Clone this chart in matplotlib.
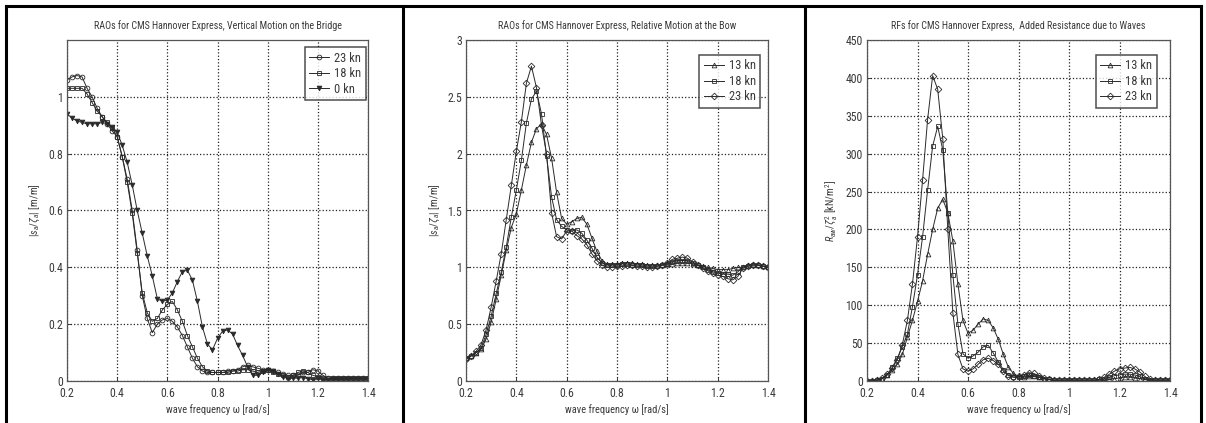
"""Seakeeping response curves of the CMS Hannover Express, three panels."""

import matplotlib
matplotlib.use("Agg")
import matplotlib.pyplot as plt
from matplotlib import font_manager
from matplotlib.lines import Line2D

# wave frequency grid [rad/s]
freq = [0.20, 0.22, 0.24, 0.26, 0.28, 0.30, 0.32, 0.34, 0.36, 0.38,
        0.40, 0.42, 0.44, 0.46, 0.48, 0.50, 0.52, 0.54, 0.56, 0.58,
        0.60, 0.62, 0.64, 0.66, 0.68, 0.70, 0.72, 0.74, 0.76, 0.78,
        0.80, 0.82, 0.84, 0.86, 0.88, 0.90, 0.92, 0.94, 0.96, 0.98,
        1.00, 1.02, 1.04, 1.06, 1.08, 1.10, 1.12, 1.14, 1.16, 1.18,
        1.20, 1.22, 1.24, 1.26, 1.28, 1.30, 1.32, 1.34, 1.36, 1.38,
        1.40]

# vertical motion on the bridge [m/m]
bridge_23kn = [1.06, 1.07, 1.075, 1.07, 1.03, 1.00, 0.96, 0.93, 0.905, 0.88,
               0.86, 0.79, 0.71, 0.60, 0.46, 0.30, 0.22, 0.17, 0.20, 0.215,
               0.22, 0.21, 0.19, 0.16, 0.12, 0.08, 0.05, 0.035, 0.03, 0.03,
               0.03, 0.03, 0.035, 0.035, 0.04, 0.05, 0.055, 0.05, 0.045, 0.04,
               0.04, 0.035, 0.03, 0.025, 0.02, 0.02, 0.02, 0.03, 0.03, 0.04,
               0.035, 0.02, 0.01, 0.01, 0.01, 0.01, 0.01, 0.01, 0.01, 0.01,
               0.01]
bridge_18kn = [1.03, 1.03, 1.03, 1.03, 1.01, 0.98, 0.95, 0.93, 0.91, 0.89,
               0.86, 0.79, 0.70, 0.59, 0.45, 0.31, 0.24, 0.21, 0.22, 0.25,
               0.27, 0.28, 0.25, 0.21, 0.16, 0.12, 0.08, 0.05, 0.035, 0.03,
               0.03, 0.03, 0.03, 0.035, 0.035, 0.04, 0.04, 0.035, 0.03, 0.035,
               0.04, 0.03, 0.025, 0.02, 0.015, 0.02, 0.03, 0.035, 0.03, 0.02,
               0.015, 0.01, 0.01, 0.01, 0.01, 0.01, 0.01, 0.01, 0.01, 0.01,
               0.01]
bridge_0kn = [0.94, 0.925, 0.915, 0.91, 0.905, 0.905, 0.905, 0.91, 0.905, 0.895,
              0.875, 0.83, 0.77, 0.69, 0.60, 0.52, 0.44, 0.37, 0.29, 0.28,
              0.285, 0.31, 0.35, 0.385, 0.39, 0.355, 0.28, 0.19, 0.13, 0.11,
              0.15, 0.175, 0.18, 0.165, 0.125, 0.09, 0.05, 0.02, 0.02, 0.03,
              0.04, 0.035, 0.025, 0.015, 0.008, 0.01, 0.01, 0.012, 0.008, 0.005,
              0.01, 0.005, 0.005, 0.006, 0.006, 0.007, 0.007, 0.008, 0.008, 0.008,
              0.008]

# relative motion at the bow [m/m]
bow_13kn = [0.20, 0.22, 0.25, 0.28, 0.37, 0.52, 0.72, 0.93, 1.15, 1.35,
            1.47, 1.68, 1.90, 2.10, 2.22, 2.26, 2.17, 1.96, 1.66, 1.43,
            1.38, 1.40, 1.43, 1.44, 1.38, 1.26, 1.14, 1.06, 1.03, 1.03,
            1.03, 1.04, 1.04, 1.04, 1.03, 1.03, 1.02, 1.02, 1.02, 1.02,
            1.03, 1.03, 1.04, 1.04, 1.04, 1.03, 1.02, 1.01, 1.00, 0.99,
            0.98, 0.98, 0.98, 0.99, 1.00, 1.00, 1.02, 1.03, 1.02, 1.01,
            1.00]
bow_18kn = [0.20, 0.22, 0.25, 0.29, 0.41, 0.57, 0.77, 0.96, 1.18, 1.44,
            1.68, 1.94, 2.27, 2.48, 2.55, 2.35, 1.98, 1.62, 1.42, 1.36,
            1.33, 1.32, 1.33, 1.30, 1.24, 1.17, 1.09, 1.04, 1.02, 1.02,
            1.02, 1.03, 1.03, 1.02, 1.02, 1.02, 1.01, 1.01, 1.01, 1.02,
            1.03, 1.05, 1.06, 1.06, 1.06, 1.04, 1.02, 1.00, 0.98, 0.96,
            0.95, 0.94, 0.94, 0.93, 0.96, 1.00, 1.01, 1.02, 1.02, 1.01,
            1.00]
bow_23kn = [0.19, 0.22, 0.26, 0.32, 0.45, 0.65, 0.88, 1.12, 1.42, 1.72,
            2.02, 2.28, 2.62, 2.77, 2.58, 2.25, 2.00, 1.48, 1.27, 1.25,
            1.32, 1.32, 1.28, 1.25, 1.20, 1.12, 1.06, 1.02, 1.00, 1.00,
            1.01, 1.01, 1.02, 1.02, 1.01, 1.01, 1.00, 1.00, 1.01, 1.02,
            1.04, 1.07, 1.08, 1.09, 1.08, 1.05, 1.02, 0.99, 0.97, 0.95,
            0.93, 0.92, 0.90, 0.89, 0.92, 0.99, 1.01, 1.02, 1.02, 1.01,
            1.00]

# added resistance due to waves [kN/m^2]
raw_13kn = [0, 0, 1, 3, 8, 14, 22, 35, 58, 80,
            105, 132, 167, 200, 228, 240, 222, 185, 128, 80,
            63, 67, 75, 82, 80, 70, 55, 35, 18, 10,
            6, 5, 6, 6, 5, 3, 2, 1, 1, 1,
            1, 1, 1, 1, 1, 1, 1, 1, 2, 3,
            4, 5, 5, 4, 3, 2, 1, 1, 1, 1,
            1]
raw_18kn = [0, 0, 1, 3, 8, 18, 30, 45, 62, 98,
            140, 190, 252, 310, 336, 305, 222, 140, 75, 36,
            30, 33, 38, 45, 47, 37, 25, 15, 8, 5,
            5, 6, 8, 7, 5, 3, 2, 1, 1, 1,
            1, 1, 1, 1, 1, 1, 2, 3, 5, 7,
            8, 9, 9, 8, 6, 3, 1, 1, 1, 1,
            1]
raw_23kn = [0, 0, 1, 4, 9, 17, 28, 48, 80, 128,
            190, 265, 345, 403, 385, 320, 200, 90, 35, 16,
            13, 16, 22, 28, 30, 27, 22, 13, 7, 5,
            6, 8, 11, 10, 7, 4, 2, 1, 1, 1,
            1, 1, 1, 1, 1, 1, 2, 5, 9, 13,
            16, 17, 18, 16, 12, 6, 2, 1, 1, 1,
            1]

x_ticks = [0.2, 0.4, 0.6, 0.8, 1.0, 1.2, 1.4]
x_ticklabels = ['0.2', '0.4', '0.6', '0.8', '1', '1.2', '1.4']

INK = '#2a2a2a'
TEXT = '#3a3a3a'


def pick_font():
    """Find a narrow sans font if one is installed."""
    names = {f.name for f in font_manager.fontManager.ttflist}
    for name in ['Liberation Sans Narrow', 'Arial Narrow', 'Roboto Condensed',
                 'Open Sans Condensed', 'DejaVu Sans Condensed']:
        if name in names:
            return name, 'normal'
    return 'DejaVu Sans', 'condensed'


def style_axes(ax, title, ylabel, ylim, yticks, yticklabels):
    """Give an axes the look of an old MATLAB figure."""
    ax.set_xlim(0.2, 1.4)
    ax.set_ylim(*ylim)
    ax.set_xticks(x_ticks)
    ax.set_xticklabels(x_ticklabels)
    ax.set_yticks(yticks)
    ax.set_yticklabels(yticklabels)
    ax.grid(True, linestyle=':', linewidth=0.9, color='#202020')
    ax.tick_params(direction='in', length=3, width=0.7, colors=TEXT,
                   labelsize=8.5)
    ax.tick_params(axis='x', pad=4)
    ax.tick_params(axis='y', pad=3)
    for spine in ax.spines.values():
        spine.set_color('#555555')
        spine.set_linewidth(0.9)
    ax.set_title(title, fontsize=7.2, color=TEXT, pad=8)
    ax.set_xlabel('wave frequency \u03c9 [rad/s]', fontsize=7.5, color=TEXT,
                  labelpad=3)
    ax.set_ylabel(ylabel, fontsize=7.5, color=TEXT, labelpad=4)


def draw(ax, series, anchor):
    for values, marker, face, label in series:
        ax.plot(freq, values, color=INK, linewidth=0.7, marker=marker,
                markersize=3.4, markerfacecolor=face, markeredgecolor=INK,
                markeredgewidth=0.6, label=label)
    leg = ax.legend(loc='upper right', bbox_to_anchor=anchor, fontsize=9,
                    frameon=True, fancybox=False, borderpad=0.35,
                    labelspacing=0.2, handlelength=1.6, handletextpad=0.4,
                    borderaxespad=0)
    leg.get_frame().set_edgecolor('#222222')
    leg.get_frame().set_linewidth(1.1)
    for t in leg.get_texts():
        t.set_color(TEXT)


def main():
    family, stretch = pick_font()
    plt.rcParams['font.family'] = [family, 'DejaVu Sans']
    plt.rcParams['font.stretch'] = stretch
    plt.rcParams['mathtext.fontset'] = 'custom'
    plt.rcParams['mathtext.rm'] = family
    plt.rcParams['mathtext.it'] = family + ':italic'

    fig = plt.figure(figsize=(12.06, 4.23), dpi=100)
    W, H = 1206.0, 423.0
    bottom = (H - 381) / H
    height = 341 / H
    ax1 = fig.add_axes([67 / W, bottom, 301 / W, height])
    ax2 = fig.add_axes([466 / W, bottom, 302 / W, height])
    ax3 = fig.add_axes([867 / W, bottom, 303 / W, height])

    draw(ax1, [(bridge_23kn, 'o', 'none', '23 kn'),
               (bridge_18kn, 's', 'none', '18 kn'),
               (bridge_0kn, 'v', INK, '0 kn')], (0.993, 0.979))
    style_axes(ax1, 'RAOs for CMS Hannover Express, Vertical Motion on the Bridge',
               r'$|s_a/\zeta_a|$ [m/m]', (0, 1.2),
               [0, 0.2, 0.4, 0.6, 0.8, 1.0],
               ['0', '0.2', '0.4', '0.6', '0.8', '1'])

    draw(ax2, [(bow_13kn, '^', 'none', '13 kn'),
               (bow_18kn, 's', 'none', '18 kn'),
               (bow_23kn, 'D', 'none', '23 kn')], (0.974, 0.956))
    style_axes(ax2, 'RAOs for CMS Hannover Express, Relative Motion at the Bow',
               r'$|s_a/\zeta_a|$ [m/m]', (0, 3),
               [0, 0.5, 1, 1.5, 2, 2.5, 3],
               ['0', '0.5', '1', '1.5', '2', '2.5', '3'])

    draw(ax3, [(raw_13kn, '^', 'none', '13 kn'),
               (raw_18kn, 's', 'none', '18 kn'),
               (raw_23kn, 'D', 'none', '23 kn')], (0.957, 0.956))
    style_axes(ax3, 'RFs for CMS Hannover Express,  Added Resistance due to Waves',
               r'$R_{aw}/\zeta_a^2$ [kN/m$^2$]', (0, 450),
               list(range(0, 451, 50)),
               [str(v) for v in range(0, 451, 50)])

    # table frame around the three panels
    top = 1 - 6 / H
    for x in [6 / W, 403 / W, 805 / W, 1201 / W]:
        fig.add_artist(Line2D([x, x], [0, top], color='black', linewidth=2.2))
    fig.add_artist(Line2D([6 / W, 1201 / W], [top, top], color='black',
                          linewidth=2.2))

    fig.savefig('out.png', dpi=100)


if __name__ == "__main__":
    main()
